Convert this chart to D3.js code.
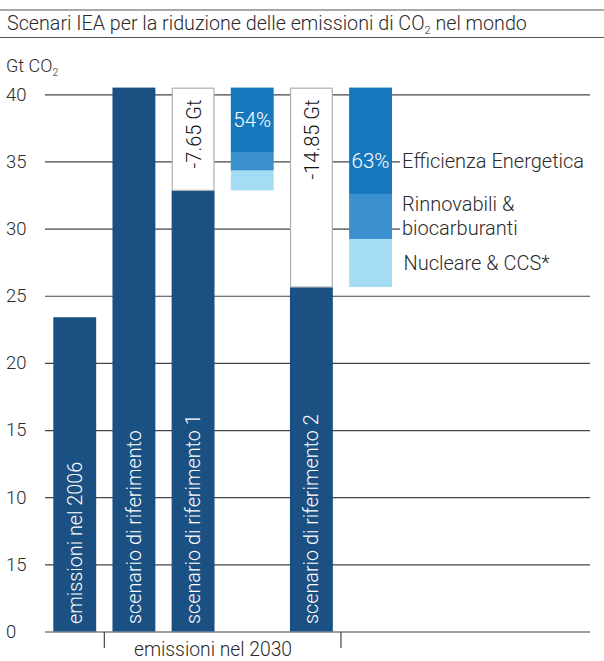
<!DOCTYPE html>
<html>
<head>
<meta charset="utf-8">
<script src="https://cdn.jsdelivr.net/npm/d3@7/dist/d3.min.js"></script>
<style>
  html, body { margin: 0; padding: 0; background: #fff; }
  svg { display: block; font-family: Roboto, "Liberation Sans", sans-serif; font-weight: 300; }
</style>
</head>
<body>
<svg id="chart" width="604" height="661"></svg>
<script>
// Columns, left to right
const columns = ["emissioni nel 2006", "scenario di riferimento", "scenario di riferimento 1",
                 "mix 1", "scenario di riferimento 2", "mix 2"];

// Emissions (Gt CO2)
const emissions2006 = 23.4;
const reference2030 = 40.5;
const reductions = [7.65, 14.85];          // scenario 1, scenario 2
const reductionLabels = ["-7.65 Gt", "-14.85 Gt"];

// Contribution of each measure to the reduction (Gt), bottom to top
const measures = ["Nucleare & CCS*", "Rinnovabili & biocarburanti", "Efficienza Energetica"];
const mix1 = [1.48, 1.37, 4.80];
const mix2 = [3.58, 3.35, 7.92];
const shareLabels = ["54%", "63%"];

// Axis ticks and their printed labels
const tickValues = [0, 5, 10, 15, 20, 25, 30, 35, 40];
const tickLabels = ["0", "15", "10", "15", "20", "25", "30", "35", "40"];

const colors = {
  dark: "#1b5083",
  measure: ["#a3dcf3", "#3a8fcf", "#1777bd"],
  grid: "#444",
  text: "#2b2b2b"
};

const svg = d3.select("#chart");

const x = d3.scaleBand().domain(columns).range([53.3, 392]).paddingInner(0.275).paddingOuter(0);
const y = d3.scaleLinear().domain([0, 40]).range([631.5, 94.3]);

// Title with rules above and below
svg.append("line").attr("x1", 0).attr("x2", 604).attr("y1", 10).attr("y2", 10)
  .attr("stroke", "#555").attr("stroke-width", 1.2);
svg.append("line").attr("x1", 0).attr("x2", 604).attr("y1", 37.5).attr("y2", 37.5)
  .attr("stroke", "#555").attr("stroke-width", 1.2);
const title = svg.append("text").attr("x", 7).attr("y", 30)
  .attr("font-size", 19.7).attr("fill", colors.text);
title.append("tspan").text("Scenari IEA per la riduzione delle emissioni di CO");
title.append("tspan").attr("font-size", 11).attr("dy", 4).text("2");
title.append("tspan").attr("dy", -4).text(" nel mondo");

// Unit label
const unit = svg.append("text").attr("x", 6).attr("y", 72)
  .attr("font-size", 18).attr("fill", colors.text);
unit.append("tspan").text("Gt CO");
unit.append("tspan").attr("font-size", 10.5).attr("dy", 4).text("2");

// Gridlines and tick labels
const yAxis = d3.axisLeft(y).tickValues(tickValues)
  .tickFormat((d, i) => tickLabels[i]).tickSize(-(590 - 45)).tickPadding(15);
const gAxis = svg.append("g").attr("transform", "translate(45,0)").call(yAxis);
gAxis.select(".domain").remove();
gAxis.selectAll(".tick line").attr("stroke", colors.grid).attr("stroke-width", 1.2);
gAxis.selectAll(".tick text")
  .attr("x", -39).attr("text-anchor", "start")
  .attr("font-size", 18.5).attr("font-family", "Roboto, 'Liberation Sans', sans-serif")
  .attr("font-weight", 300).attr("fill", colors.text);

// Background behind the legend text, hides the gridlines there
svg.append("rect").attr("x", 400).attr("y", 140).attr("width", 204).attr("height", 145).attr("fill", "#fff");

const bw = x.bandwidth();

// Solid columns
const solids = [
  { col: columns[0], value: emissions2006 },
  { col: columns[1], value: reference2030 },
  { col: columns[2], value: reference2030 - reductions[0] },
  { col: columns[4], value: reference2030 - reductions[1] }
];
svg.append("g").selectAll("rect").data(solids).join("rect")
  .attr("x", d => x(d.col)).attr("width", bw)
  .attr("y", d => y(d.value)).attr("height", d => y(0) - y(d.value))
  .attr("fill", colors.dark);

// Open boxes showing the reduction on top of each scenario
const gaps = [
  { col: columns[2], from: reference2030 - reductions[0], to: reference2030, label: reductionLabels[0] },
  { col: columns[4], from: reference2030 - reductions[1], to: reference2030, label: reductionLabels[1] }
];
svg.append("g").selectAll("rect").data(gaps).join("rect")
  .attr("x", d => x(d.col) + 0.6).attr("width", bw - 1.2)
  .attr("y", d => y(d.to) + 0.6).attr("height", d => y(d.from) - y(d.to) - 0.6)
  .attr("fill", "#fff").attr("stroke", "#b0b0b0").attr("stroke-width", 1.2);
svg.append("g").selectAll("text").data(gaps).join("text")
  .attr("transform", d => `translate(${x(d.col) + bw / 2 + 8},${y(d.to) + 12}) rotate(-90)`)
  .attr("text-anchor", "end").attr("font-size", 20).attr("fill", "#111")
  .text(d => d.label);

// Stacked contributions of the measures
const stackData = [
  { col: columns[3], parts: mix1, base: reference2030 - reductions[0], share: shareLabels[0] },
  { col: columns[5], parts: mix2, base: reference2030 - reductions[1], share: shareLabels[1] }
];
stackData.forEach(s => {
  let acc = s.base;
  const segs = s.parts.map((v, i) => { const seg = { y0: acc, y1: acc + v, i }; acc += v; return seg; });
  svg.append("g").selectAll("rect").data(segs).join("rect")
    .attr("x", x(s.col)).attr("width", bw)
    .attr("y", d => y(d.y1)).attr("height", d => y(d.y0) - y(d.y1))
    .attr("fill", d => colors.measure[d.i]);
});

// Share labels
svg.append("text").attr("x", x(columns[3]) + bw / 2).attr("y", 127)
  .attr("text-anchor", "middle").attr("font-size", 20.5).attr("fill", "#fff").text(stackData[0].share);
svg.append("text").attr("x", x(columns[5]) + bw / 2).attr("y", 168)
  .attr("text-anchor", "middle").attr("font-size", 20.5).attr("fill", "#fff").text(stackData[1].share);

// Column labels inside the dark bars
const barLabels = [columns[0], columns[1], columns[2], columns[4]];
svg.append("g").selectAll("text").data(barLabels).join("text")
  .attr("transform", d => `translate(${x(d) + bw / 2 + 7},624) rotate(-90)`)
  .attr("text-anchor", "start").attr("font-size", 19.8).attr("fill", "#fff")
  .text(d => d);

// Legend text next to the second stack
const lx = 402;
const legend = svg.append("g").attr("font-size", 20).attr("fill", colors.text);
legend.append("text").attr("x", lx).attr("y", 167.5).text(measures[2]);
legend.append("text").attr("x", lx).attr("y", 211).text("Rinnovabili &");
legend.append("text").attr("x", lx).attr("y", 235).text("biocarburanti");
legend.append("text").attr("x", lx + 1.5).attr("y", 270).text(measures[0]);

// Grouping bracket under the 2030 columns
const bx0 = x(columns[1]) - (x.step() - bw) / 2;
const bx1 = x(columns[5]) - (x.step() - bw) / 2;
svg.append("line").attr("x1", bx0).attr("x2", bx0).attr("y1", 632).attr("y2", 648)
  .attr("stroke", colors.grid).attr("stroke-width", 1.2);
svg.append("line").attr("x1", bx1).attr("x2", bx1).attr("y1", 632).attr("y2", 648)
  .attr("stroke", colors.grid).attr("stroke-width", 1.2);
svg.append("text").attr("x", 213).attr("y", 656)
  .attr("text-anchor", "middle").attr("font-size", 19.3).attr("fill", colors.text)
  .text("emissioni nel 2030");
</script>
</body>
</html>
